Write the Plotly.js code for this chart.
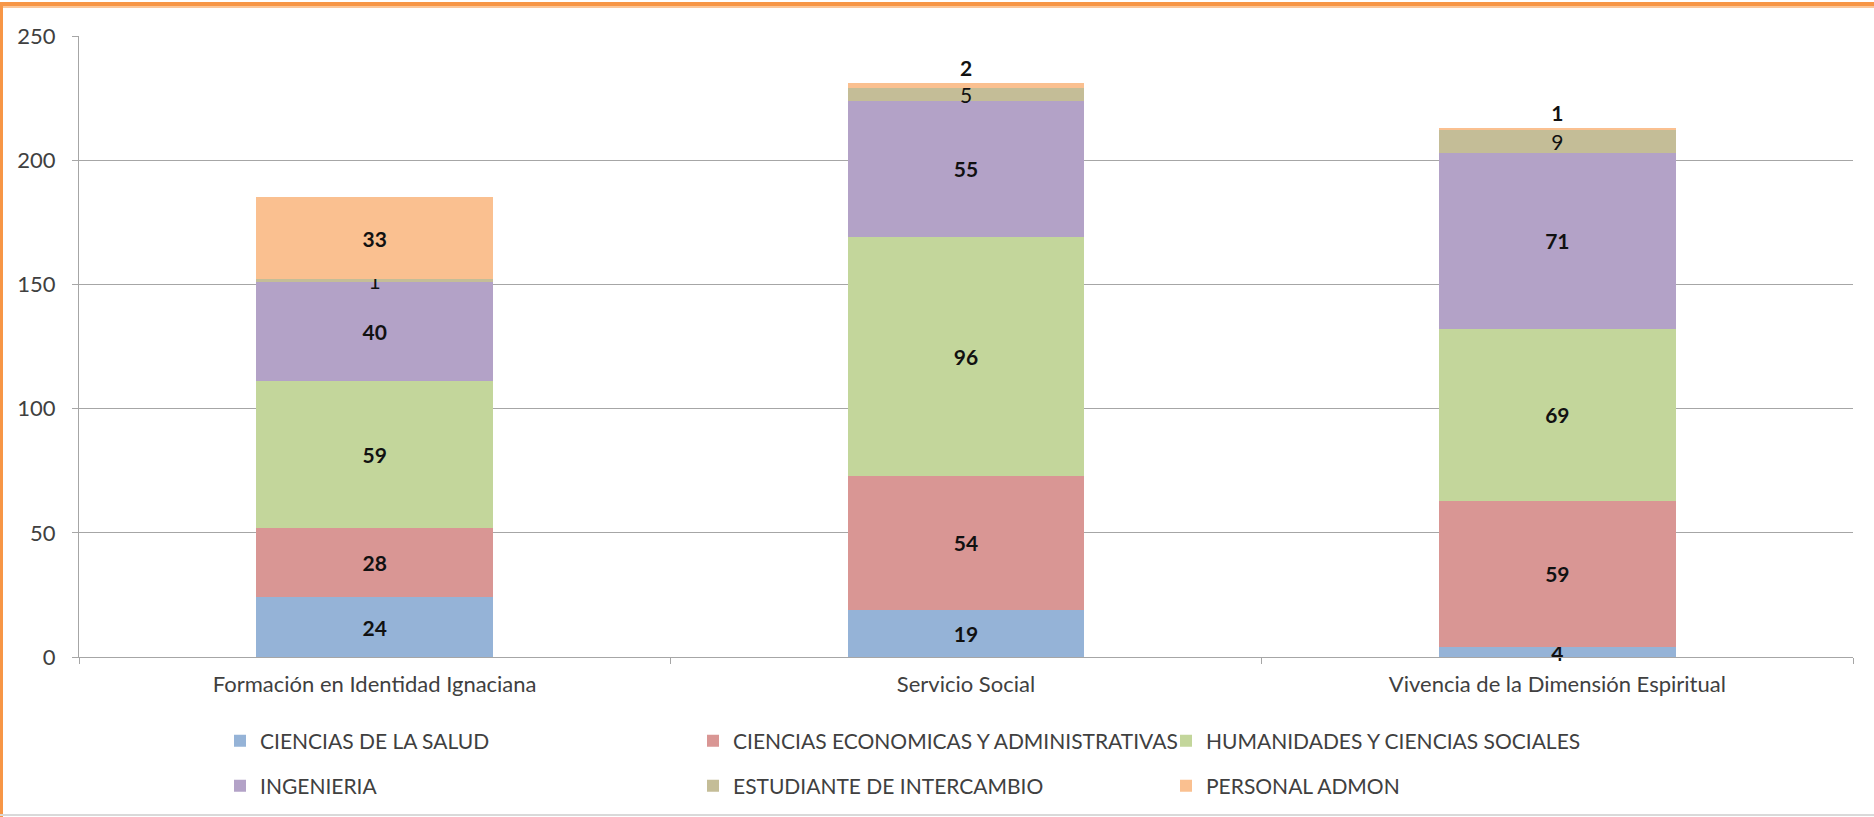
<!DOCTYPE html>
<html>
<head>
<meta charset="utf-8">
<script src="https://cdn.plot.ly/plotly-3.0.1.min.js"></script>
<style>
  html, body { margin: 0; padding: 0; background: #fff; }
  #wrap { position: relative; width: 1874px; height: 817px; }
  #chart { width: 1874px; height: 817px; }
  #frameTop { position: absolute; left: 0; top: 2px; width: 1874px; height: 4px; background: #F79646; pointer-events: none; }
  #frameTop2 { position: absolute; left: 0; top: 6px; width: 1874px; height: 2px; background: #FBC79A; pointer-events: none; }
  #frameLeft { position: absolute; left: 0; top: 2px; width: 3px; height: 815px; background: #F79646; pointer-events: none; }
  #frameBottom { position: absolute; left: 0; top: 814px; width: 1874px; height: 2px; background: #D9D9D9; pointer-events: none; }
</style>
</head>
<body>
<div id="wrap">
  <div id="chart"></div>
  <div id="frameTop"></div>
  <div id="frameTop2"></div>
  <div id="frameLeft"></div>
  <div id="frameBottom"></div>
</div>
<script>
const categories = ["Formación en Identidad Ignaciana", "Servicio Social", "Vivencia de la Dimensión Espiritual"];
const seriesNames = ["CIENCIAS DE LA SALUD", "CIENCIAS ECONOMICAS Y ADMINISTRATIVAS", "HUMANIDADES Y CIENCIAS SOCIALES", "INGENIERIA", "ESTUDIANTE DE INTERCAMBIO", "PERSONAL ADMON"];
const cienciasSalud = [24, 19, 4];
const cienciasEconomicas = [28, 54, 59];
const humanidades = [59, 96, 69];
const ingenieria = [40, 55, 71];
const intercambio = [1, 5, 9];
const personalAdmon = [33, 2, 1];
const yTicks = [0, 50, 100, 150, 200, 250];

const colors = ["#95B3D7", "#D99694", "#C3D69B", "#B3A2C7", "#C4BD97", "#FAC090"];
const values = [cienciasSalud, cienciasEconomicas, humanidades, ingenieria, intercambio, personalAdmon];
const FONT = "Lato, 'Open Sans', sans-serif";
const LABEL_SIZE = 21;

const traces = values.map((v, i) => {
  const isPersonal = i === 5;
  const w = i === 4 ? 400 : 700;
  return {
    type: "bar",
    name: seriesNames[i],
    x: categories,
    y: v,
    text: v.map(String),
    textposition: isPersonal ? v.map(val => val < 5 ? "outside" : "inside") : "inside",
    insidetextanchor: "middle",
    textangle: 0,
    cliponaxis: false,
    constraintext: "none",
    textfont: { family: FONT, size: LABEL_SIZE, color: "#111111", weight: w },
    outsidetextfont: { family: FONT, size: LABEL_SIZE, color: "#111111", weight: 700 },
    insidetextfont: { family: FONT, size: LABEL_SIZE, color: "#111111", weight: w },
    marker: { color: colors[i], line: { width: 0 } },
    hoverinfo: "skip",
    legend: i < 3 ? "legend" : "legend2"
  };
});

const W = 1874, H = 817;
const mL = 79, mR = 21, mT = 36, mB = 159;
const plotW = W - mL - mR, plotH = H - mT - mB;
const px2x = p => (p - mL) / plotW;
const px2y = p => (H - mB - p) / plotH;

const legendCommon = {
  orientation: "h",
  xanchor: "left",
  yanchor: "middle",
  font: { family: FONT, size: 21, color: "#404040" },
  bgcolor: "rgba(0,0,0,0)",
  entrywidth: 428,
  entrywidthmode: "pixels",
  traceorder: "normal",
  itemclick: false,
  itemdoubleclick: false
};

const layout = {
  width: W,
  height: H,
  margin: { l: mL, r: mR, t: mT, b: mB },
  paper_bgcolor: "#ffffff",
  plot_bgcolor: "#ffffff",
  barmode: "stack",
  bargap: 0.6,
  uniformtext: { mode: "show", minsize: LABEL_SIZE - 1 },
  font: { family: FONT, color: "#404040" },
  xaxis: {
    type: "category",
    showgrid: false,
    showline: true,
    linecolor: "#A6A6A6",
    linewidth: 1,
    ticks: "outside",
    tickson: "boundaries",
    ticklen: 6,
    tickcolor: "#A6A6A6",
    tickfont: { family: FONT, size: 22, color: "#404040" },
    ticklabelstandoff: 8,
    fixedrange: true
  },
  yaxis: {
    range: [0, 250],
    tickvals: yTicks,
    ticktext: yTicks.map(String),
    showgrid: true,
    gridcolor: "#A6A6A6",
    gridwidth: 1,
    showline: true,
    linecolor: "#A6A6A6",
    linewidth: 1,
    ticks: "outside",
    ticklen: 6,
    tickcolor: "#A6A6A6",
    tickfont: { family: FONT, size: 22, color: "#404040" },
    ticklabelstandoff: 12,
    zeroline: false,
    fixedrange: true
  },
  legend: Object.assign({}, legendCommon, { x: px2x(220), y: px2y(741) }),
  legend2: Object.assign({}, legendCommon, { x: px2x(220), y: px2y(786) }),
  showlegend: true
};

Plotly.newPlot("chart", traces, layout, { displayModeBar: false, staticPlot: true });
</script>
</body>
</html>
